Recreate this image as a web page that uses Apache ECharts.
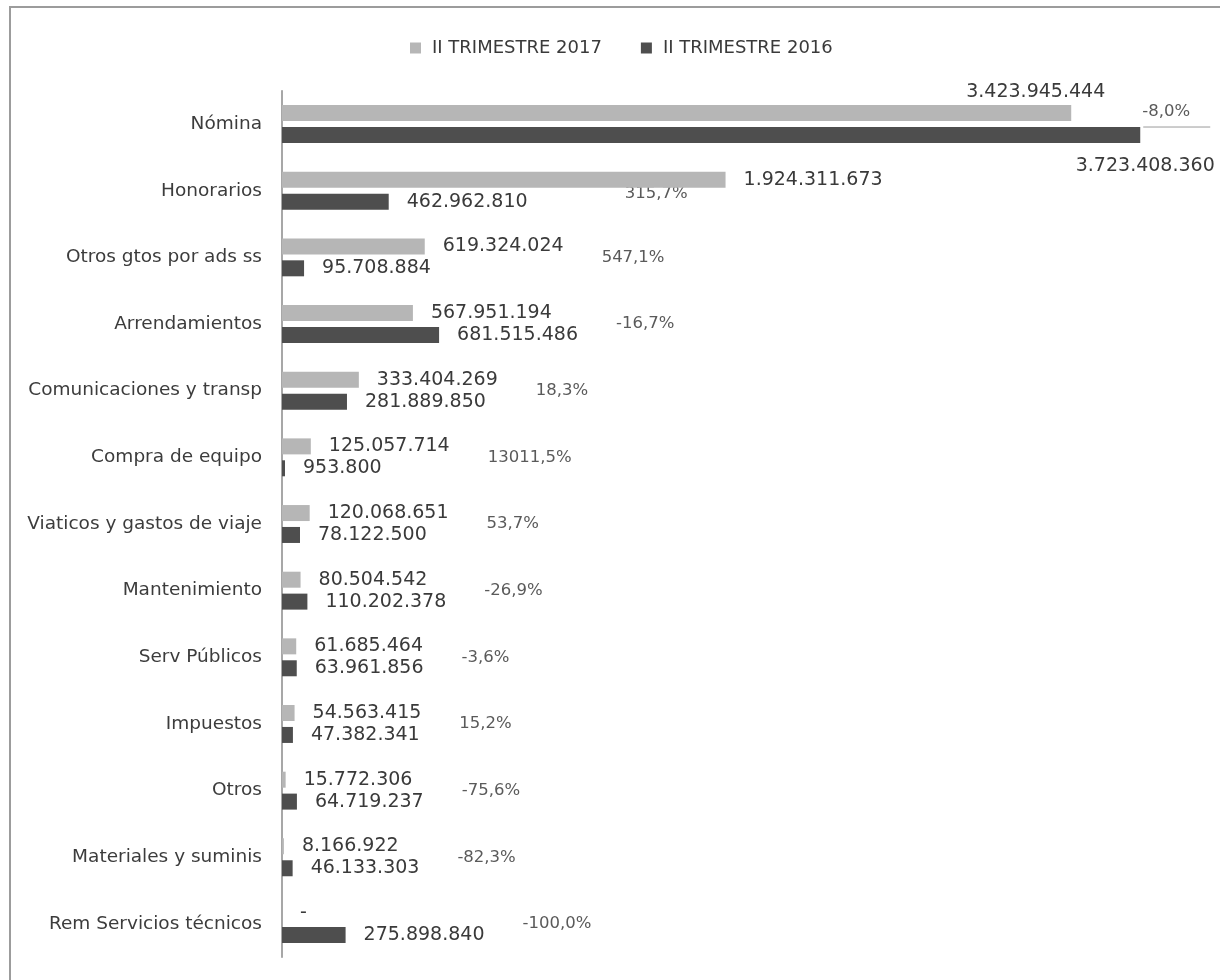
<!DOCTYPE html>
<html><head><meta charset="utf-8">
<script src="https://cdn.jsdelivr.net/npm/echarts@6/dist/echarts.min.js"></script>
<style>html,body{margin:0;padding:0;background:#fff}#c{width:1220px;height:980px}</style>
</head><body><div id="c"></div>
<script>
const categories = ['Nómina','Honorarios','Otros gtos por ads ss','Arrendamientos','Comunicaciones y transp','Compra de equipo','Viaticos y gastos de viaje','Mantenimiento','Serv Públicos','Impuestos','Otros','Materiales y suminis','Rem Servicios técnicos'];
const trim2017 = [3423945444,1924311673,619324024,567951194,333404269,125057714,120068651,80504542,61685464,54563415,15772306,8166922,0];
const trim2016 = [3723408360,462962810,95708884,681515486,281889850,953800,78122500,110202378,63961856,47382341,64719237,46133303,275898840];
const variation = ['-8,0%','315,7%','547,1%','-16,7%','18,3%','13011,5%','53,7%','-26,9%','-3,6%','15,2%','-75,6%','-82,3%','-100,0%'];
const seriesNames = ['II TRIMESTRE 2017','II TRIMESTRE 2016'];

const FONT = '"DejaVu Sans", sans-serif';
const VAL_SIZE = 19, PCT_SIZE = 16.5, LABEL_DIST = 18;
function fmt(n){ return n === 0 ? '-' : String(n).replace(/\B(?=(\d{3})+(?!\d))/g, '.'); }

const chart = echarts.init(document.getElementById('c'), null, {renderer:'canvas'});

const data17 = trim2017.map((v,i) => i === 0
  ? {value:v, label:{position:['100%',0], align:'right', verticalAlign:'bottom', offset:[34,-4]}}
  : v);
const data16 = trim2016.map((v,i) => i === 0
  ? {value:v, label:{position:['100%','100%'], align:'center', verticalAlign:'top', offset:[5,14]}}
  : v);

const valLabel = {show:true, position:'right', distance:LABEL_DIST, color:'#3a3a3a', fontFamily:FONT, fontSize:VAL_SIZE,
  formatter: p => fmt(p.value)};

chart.setOption({
  animation:false,
  backgroundColor:'#fff',
  legend:{data:seriesNames, left:405, top:34, icon:'rect', itemWidth:11, itemHeight:11, itemGap:39,
    textStyle:{fontFamily:FONT, fontSize:18, color:'#3a3a3a', padding:[0,0,0,6]}},
  grid:{left:282, right:16, top:90.7, bottom:22.7, containLabel:false},
  xAxis:{type:'value', min:0, max:4e9, show:false, splitLine:{show:false}},
  yAxis:{type:'category', data:categories, inverse:true,
    axisLine:{show:true, lineStyle:{color:'#8a8a8a', width:1.5}},
    axisTick:{show:false},
    axisLabel:{margin:20, color:'#3c3c3c', fontFamily:FONT, fontSize:18.5}},
  series:[
    {name:seriesNames[0], type:'bar', data:data17, barWidth:16, barGap:'37%', itemStyle:{color:'#b6b6b6'}, label:valLabel},
    {name:seriesNames[1], type:'bar', data:data16, barWidth:16, barGap:'37%', barMinHeight:3, itemStyle:{color:'#4e4e4e'}, label:valLabel}
  ]
});

// Percentage annotations positioned from the library's own scales
const ctx = document.createElement('canvas').getContext('2d');
ctx.font = VAL_SIZE + 'px ' + FONT;
const g = [{type:'rect', shape:{x:10, y:7, width:1240, height:1000}, style:{fill:'none', stroke:'#9c9c9c', lineWidth:2}, silent:true}];
variation.forEach((t,i) => {
  const yc = chart.convertToPixel({yAxisIndex:0}, i);
  const e17 = chart.convertToPixel({xAxisIndex:0}, trim2017[i]);
  const e16 = chart.convertToPixel({xAxisIndex:0}, trim2016[i]);
  let x, y = yc, align = 'left';
  if (i === 0) { x = e17 + 71; y = yc - 12; }
  else if (i === 1) { x = e17 - 38; y = yc + 3; align = 'right'; }
  else {
    const l17 = e17 + LABEL_DIST + ctx.measureText(fmt(trim2017[i])).width;
    const l16 = e16 + LABEL_DIST + ctx.measureText(fmt(trim2016[i])).width;
    x = Math.max(l17, l16) + 38;
  }
  g.push({type:'text', x:x, y:y, silent:true,
    style:{text:t, fill:'#5a5a5a', font:PCT_SIZE + 'px ' + FONT, align:align, verticalAlign:'middle'}});
  if (i === 0) {
    g.push({type:'line', silent:true, shape:{x1:e16 + 3, y1:yc + 3, x2:e16 + 70, y2:yc + 3}, style:{stroke:'#9a9a9a', lineWidth:1}});
  }
});
chart.setOption({graphic:g});
</script>
</body></html>
